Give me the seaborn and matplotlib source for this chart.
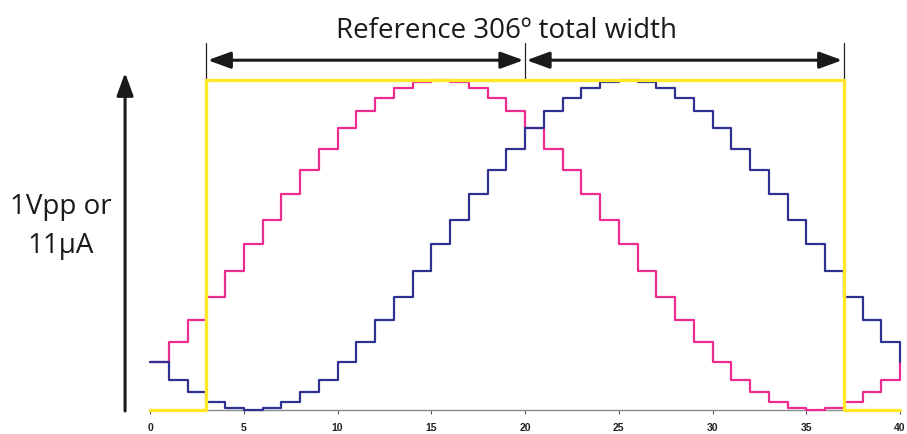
import matplotlib
matplotlib.use("Agg")
import matplotlib.pyplot as plt
import seaborn as sns
import pandas as pd

# ---- data ----
x_pos = list(range(0, 41))
pink = [14.5, 20.7, 27.3, 34.3, 42.2, 50.2, 57.6, 65.5, 72.7, 79.1,
        85.6, 90.7, 94.5, 97.5, 99.3, 100.0, 99.3, 97.5, 94.5, 90.7,
        85.6, 79.1, 72.7, 65.5, 57.6, 50.2, 42.2, 34.3, 27.3, 20.7,
        14.5, 9.1, 5.4, 2.3, 0.5, 0.0, 0.5, 2.3, 5.4, 9.1, 14.5]
blue = [14.5, 9.1, 5.4, 2.3, 0.5, 0.0, 0.5, 2.3, 5.4, 9.1,
        14.5, 20.7, 27.3, 34.3, 42.2, 50.2, 57.6, 65.5, 72.7, 79.1,
        85.6, 90.7, 94.5, 97.5, 99.3, 100.0, 99.3, 97.5, 94.5, 90.7,
        85.6, 79.1, 72.7, 65.5, 57.6, 50.2, 42.2, 34.3, 27.3, 20.7, 14.5]
yellow = [0, 0, 0] + [100] * 34 + [0, 0, 0, 0]
xticks = [0, 5, 10, 15, 20, 25, 30, 35, 40]
ref_start, ref_mid, ref_end = 3, 20, 37
title_text = "Reference 306º total width"
ylabel_text = "1Vpp or\n11µA"

PINK = "#EC2A8F"
BLUE = "#2E3192"
YELLOW = "#FFE82A"

sns.set_theme(style="white")
plt.rcParams['font.family'] = ['Open Sans', 'DejaVu Sans']

fig = plt.figure(figsize=(9.07, 4.34), dpi=100)
ax = fig.add_axes([150/907, 24/434, 750/907, 330/434])

df = pd.DataFrame({"x": x_pos, "pink": pink, "blue": blue, "yellow": yellow})
sns.lineplot(data=df, x="x", y="pink", ax=ax, color=PINK, lw=1.6,
             drawstyle="steps-post", clip_on=False, zorder=3)
sns.lineplot(data=df, x="x", y="blue", ax=ax, color=BLUE, lw=1.6,
             drawstyle="steps-post", clip_on=False, zorder=3)
sns.lineplot(data=df, x="x", y="yellow", ax=ax, color=YELLOW, lw=2.4,
             drawstyle="steps-post", clip_on=False, zorder=5)

ax.set_xlim(0, 40)
ax.set_ylim(0, 100)
ax.set_xticks(xticks)
ax.set_xticklabels([str(t) for t in xticks], fontsize=7.5, fontweight="bold",
                   family=["Liberation Sans", "DejaVu Sans"])
ax.set_yticks([])
ax.set_xlabel("")
ax.set_ylabel("")
for s in ["left", "top", "right"]:
    ax.spines[s].set_visible(False)
ax.spines["bottom"].set_color("#8a8a8a")
ax.spines["bottom"].set_linewidth(1.0)
ax.tick_params(axis="x", bottom=True, length=3, width=0.8, color="#555555",
               pad=6.5, labelcolor="#222222")

# dimension lines
for xv in [ref_start, ref_mid, ref_end]:
    ax.plot([xv, xv], [100, 111.2], color="#222222", lw=0.9, clip_on=False, zorder=4)
arrow_y = 106.0
for a, b in [(ref_start, ref_mid), (ref_mid, ref_end)]:
    ax.annotate("", xy=(a + 0.08, arrow_y), xytext=(b - 0.08, arrow_y),
                arrowprops=dict(arrowstyle="<|-|>,head_length=1.15,head_width=0.42",
                                color="#1a1a1a", lw=2.2, shrinkA=0, shrinkB=0),
                annotation_clip=False)
ax.text(19.0, 112.6, title_text, ha="center", va="baseline", fontsize=20,
        color="#1a1a1a", clip_on=False)

# y arrow
ax.annotate("", xy=(-1.33, 102.2), xytext=(-1.33, -0.3),
            arrowprops=dict(arrowstyle="-|>,head_length=1.15,head_width=0.42",
                            color="#1a1a1a", lw=2.2, shrinkA=0, shrinkB=0),
            annotation_clip=False)
ax.text(-4.75, 47.6, ylabel_text, ha="center", va="baseline", fontsize=20,
        color="#1a1a1a", linespacing=1.5, clip_on=False)

fig.savefig("out.png", dpi=100)
